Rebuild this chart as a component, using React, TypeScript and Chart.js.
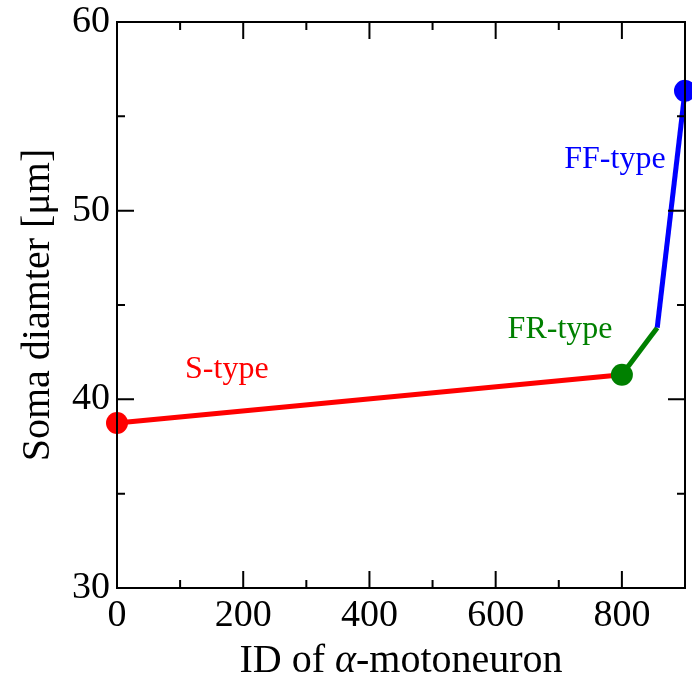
import React, { useEffect, useRef } from "react";
import { Chart, registerables } from "chart.js";

Chart.register(...registerables);

const sTypeData = [
  { x: 0, y: 38.75 },
  { x: 800, y: 41.3 },
];
const frTypeData = [
  { x: 800, y: 41.3 },
  { x: 856, y: 43.8 },
];
const ffTypeData = [
  { x: 856, y: 43.8 },
  { x: 900, y: 56.35 },
];
const labelTexts = ["S-type", "FR-type", "FF-type"];
const labelX = [174, 702, 789];
const labelY = [41.55, 43.7, 52.7];
const labelColors = ["#ff0000", "#008000", "#0000ff"];
const xMajorTicks = [0, 200, 400, 600, 800];
const xMinorTicks = [100, 300, 500, 700, 900];
const yMajorTicks = [30, 40, 50, 60];
const yMinorTicks = [35, 45, 55];

const FONT = "'Liberation Serif', 'Times New Roman', serif";

const framePlugin = {
  id: "frameTicks",
  afterDatasetsDraw(chart: any) {
    const { ctx, chartArea: a, scales } = chart;
    const xs = scales.x;
    const ys = scales.y;
    ctx.save();
    ctx.strokeStyle = "#000";
    ctx.lineWidth = 2;
    ctx.beginPath();
    ctx.rect(a.left, a.top, a.right - a.left, a.bottom - a.top);
    ctx.stroke();
    const major = 17;
    const minor = 8;
    ctx.beginPath();
    const xt = (v: number, len: number) => {
      const p = xs.getPixelForValue(v);
      ctx.moveTo(p, a.bottom);
      ctx.lineTo(p, a.bottom - len);
      ctx.moveTo(p, a.top);
      ctx.lineTo(p, a.top + len);
    };
    const yt = (v: number, len: number) => {
      const p = ys.getPixelForValue(v);
      ctx.moveTo(a.left, p);
      ctx.lineTo(a.left + len, p);
      ctx.moveTo(a.right, p);
      ctx.lineTo(a.right - len, p);
    };
    xMajorTicks.forEach((v) => xt(v, major));
    xMinorTicks.forEach((v) => xt(v, minor));
    yMajorTicks.forEach((v) => yt(v, major));
    yMinorTicks.forEach((v) => yt(v, minor));
    ctx.stroke();

    // annotations
    ctx.font = `32px ${FONT}`;
    ctx.textAlign = "center";
    ctx.textBaseline = "middle";
    labelTexts.forEach((t, i) => {
      ctx.fillStyle = labelColors[i];
      ctx.fillText(t, xs.getPixelForValue(labelX[i]), ys.getPixelForValue(labelY[i]));
    });

    // x title with italic alpha
    const parts = [
      { t: "ID of ", f: `40px ${FONT}` },
      { t: "\u03b1", f: `italic 40px ${FONT}` },
      { t: "-motoneuron", f: `40px ${FONT}` },
    ];
    let total = 0;
    parts.forEach((p) => {
      ctx.font = p.f;
      total += ctx.measureText(p.t).width;
    });
    let x = (a.left + a.right) / 2 - total / 2;
    ctx.fillStyle = "#000";
    ctx.textAlign = "left";
    ctx.textBaseline = "alphabetic";
    parts.forEach((p) => {
      ctx.font = p.f;
      ctx.fillText(p.t, x, 672);
      x += ctx.measureText(p.t).width;
    });
    ctx.restore();
  },
};

const zeroPad = (s: any) => {
  s.paddingTop = 0;
  s.paddingBottom = 0;
  s.paddingLeft = 0;
  s.paddingRight = 0;
};

export default function App() {
  const ref = useRef<HTMLCanvasElement>(null);
  useEffect(() => {
    document.body.style.margin = "0";
    const mk = (data: any[], color: string, radii: number[], order: number) => ({
      data,
      borderColor: color,
      backgroundColor: color,
      borderWidth: 5,
      pointRadius: radii,
      pointBorderWidth: 0,
      pointBackgroundColor: color,
      showLine: true,
      fill: false,
      tension: 0,
      clip: false as any,
      order,
    });
    const chart = new Chart(ref.current!, {
      type: "scatter",
      data: {
        datasets: [
          mk(sTypeData, "#ff0000", [11, 0], 2),
          mk(frTypeData, "#008000", [11, 0], 1),
          mk(ffTypeData, "#0000ff", [0, 11], 0),
        ],
      },
      options: {
        animation: false,
        responsive: false,
        events: [],
        layout: { autoPadding: false, padding: { top: 22, right: 7, left: 0, bottom: 0 } },
        plugins: { legend: { display: false }, tooltip: { enabled: false } },
        scales: {
          x: {
            type: "linear",
            min: 0,
            max: 900,
            grid: { display: false, drawTicks: false },
            border: { display: false },
            ticks: {
              stepSize: 100,
              autoSkip: false,
              maxRotation: 0,
              padding: 5,
              color: "#000",
              font: { family: FONT, size: 38 },
              callback: (v: any) => (v % 200 === 0 && v < 900 ? String(v) : ""),
            },
            afterFit: (s: any) => {
              s.height = 96;
              zeroPad(s);
            },
          },
          y: {
            type: "linear",
            min: 30,
            max: 60,
            grid: { display: false, drawTicks: false },
            border: { display: false },
            ticks: {
              stepSize: 10,
              padding: 7,
              color: "#000",
              font: { family: FONT, size: 38 },
            },
            title: {
              display: true,
              text: "Soma diamter [\u03bcm]",
              color: "#000",
              font: { family: FONT, size: 40 },
              padding: { top: 14, bottom: 0 },
            },
            afterFit: (s: any) => {
              s.width = 117;
              zeroPad(s);
            },
          },
        },
      },
      plugins: [framePlugin],
    });
    return () => chart.destroy();
  }, []);
  return <canvas ref={ref} width={692} height={684} />;
}
